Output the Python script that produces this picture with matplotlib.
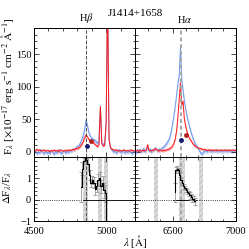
import numpy as np
import matplotlib
matplotlib.use('Agg')
import matplotlib.pyplot as plt
from matplotlib.ticker import MultipleLocator, FixedLocator

plt.rcParams['font.family'] = ['Liberation Serif', 'DejaVu Serif']
plt.rcParams['mathtext.fontset'] = 'stix'
plt.rcParams['hatch.color'] = '0.7'
plt.rcParams['hatch.linewidth'] = 0.5

# datos: espectros (dos epocas), rejilla de 10 A
lam_b = np.arange(4500, 5201, 10)
lam_a = np.arange(6200, 7001, 10)

blue_hb = [-1, 2, -3, 0, -2, 3, -1, -3, 1, -2,
           0, -3, 2, -1, -4, 1, -2, 3, -1, -3,
           0, 2, -2, 1, -1, 2, 1, 4, 3, 6,
           8, 9, 13, 18, 24, 33, 49, 40, 30, 24,
           20, 19, 17, 16, 13, 14, 68, 13, 11, 12,
           43, 235, 18, 6, 3, 0, 2, -2, 1, 3,
           -1, 0, 2, -2, 1, -1, 2, 0, -3, 1, -1]
red_hb = [3, 1, 4, 2, 3, 1, 2, 3, 1, 2,
          2, 0, 2, 1, 3, 1, 2, 0, 3, 2,
          1, 2, 1, 3, 2, 3, 2, 4, 3, 5,
          5, 6, 8, 11, 15, 21, 26, 23, 19, 17,
          16, 14, 12, 10, 8, 11, 70, 12, 9, 10,
          45, 240, 20, 6, 4, 3, 2, 3, 2, 1,
          2, 1, 3, 2, 1, 2, 1, 3, 2, 1, 2]

blue_ha = [1, -2, 3, 0, 4, -1, 2, 5, 0, 2,
           9, 1, 4, -1, 3, 2, 6, 3, 1, 4,
           2, 5, 6, 8, 10, 13, 16, 19, 25, 34,
           46, 58, 72, 88, 105, 118, 162, 112, 95, 80,
           66, 56, 48, 40, 32, 26, 20, 15, 11, 8,
           5, 2, -2, -4, -1, 1, 2, 0, 3, 1,
           2, 0, 2, 1, 3, 0, 2, 1, 2, 0,
           2, 1, 3, 0, 2, 1, 2, 0, 2, 1, 2]
red_ha = [2, 1, 3, 0, 2, 1, 3, 1, 2, 3,
          11, 3, 1, 2, 3, 2, 5, 4, 2, 1,
          3, 2, 1, 3, 2, 3, 4, 4, 6, 7,
          10, 14, 21, 33, 55, 80, 106, 72, 78, 52,
          40, 32, 26, 21, 18, 15, 12, 10, 8, 7,
          6, 5, 5, 4, 3, 4, 3, 2, 3, 2,
          3, 2, 3, 2, 2, 3, 2, 2, 3, 2,
          2, 3, 2, 2, 3, 2, 2, 3, 2, 2, 3]
err_blue = 3.0
err_red = 2.0

# puntos
dots_lam = [4864, 4892, 6565, 6605]
dots_flux = [9.4, 17, 18, 26]

# residuos dF/F
res_lam_b = [4825, 4835, 4845, 4855, 4865, 4875, 4885, 4895, 4905, 4915,
             4925, 4935, 4945, 4955, 4965, 4975, 4985, 4995, 5005]
res_val_b = [0.6, 1.45, 1.80, 1.93, 1.88, 1.65, 1.15, 0.78, 0.92, 0.80,
             0.50, 0.62, 0.92, 1.00, 0.62, 0.80, 0.45, 0.30, -1.2]
res_err_b = [0.7, 0.3, 0.15, 0.1, 0.15, 0.3, 0.25, 0.2, 0.2, 0.25,
             0.3, 0.25, 0.3, 0.3, 0.3, 0.3, 0.35, 0.4, 0.0]
res_lam_a = [6515, 6525, 6535, 6545, 6555, 6565, 6575, 6585, 6595, 6605,
             6615, 6625, 6635, 6645, 6655, 6665, 6675]
res_val_a = [0.35, 1.40, 1.45, 1.40, 1.15, 0.92, 0.80, 0.62, 0.55, 0.45,
             0.38, 0.30, 0.20, 0.12, 0.05, 0.02, -0.08]
res_err_a = [0.45, 0.15, 0.12, 0.1, 0.1, 0.1, 0.1, 0.1, 0.1, 0.1,
             0.12, 0.12, 0.15, 0.15, 0.15, 0.15, 0.15]

bandas_b = [(4841, 4876), (4945, 4974), (4986, 5014)]
bandas_a = [(6350, 6380), (6548, 6600), (6703, 6740)]

fig = plt.figure(figsize=(2.49, 2.49), dpi=100)
x0, w = 34 / 249, 101 / 249
ax1 = fig.add_axes([x0, 0.3695, w, 0.518])
ax2 = fig.add_axes([x0 + w, 0.3695, w, 0.518])
ax3 = fig.add_axes([x0, 0.1124, w, 0.2571])
ax4 = fig.add_axes([x0 + w, 0.1124, w, 0.2571])

azul = '#7099ee'
rojo = '#ff1a1a'
for ax, lam, fb, fr in [(ax1, lam_b, blue_hb, red_hb), (ax2, lam_a, blue_ha, red_ha)]:
    fb = np.array(fb, dtype=float)
    fr = np.array(fr, dtype=float)
    ax.fill_between(lam, fb - err_blue, fb + err_blue, color='#bccff6', lw=0)
    ax.plot(lam, fb, color=azul, lw=0.7)
    ax.fill_between(lam, fr - err_red, fr + err_red, color='#ffaaaa', lw=0)
    ax.plot(lam, fr, color=rojo, lw=0.7)
    ax.set_ylim(-8, 190)

ax1.set_xlim(4500, 5200)
ax3.set_xlim(4500, 5200)
ax2.set_xlim(6200, 7000)
ax4.set_xlim(6200, 7000)

ax1.axvline(4861, color='0.3', ls='--', lw=0.7)
ax3.axvline(4861, color='0.3', ls='--', lw=0.7)
ax2.axvline(6563, color='0.65', ls='--', lw=1.4, dashes=(2, 1.5))
ax4.axvline(6563, color='0.65', ls='--', lw=1.4, dashes=(2, 1.5))

for i in range(4):
    ax = ax1 if dots_lam[i] < 6000 else ax2
    c = 'midnightblue' if i % 2 == 0 else 'firebrick'
    ax.plot(dots_lam[i], dots_flux[i], 'o', color=c, ms=2.5, zorder=5)

# panel inferior
for ax, bandas, lam, val, err, seg in [(ax3, bandas_b, res_lam_b, res_val_b, res_err_b, (4840, 5200)),
                                      (ax4, bandas_a, res_lam_a, res_val_a, res_err_a, (6500, 6690))]:
    for a, b in bandas:
        ax.axvspan(a, b, facecolor='0.85', edgecolor='0.72', hatch='//////', lw=0)
    ax.axhline(0, color='k', ls=':', lw=0.6)
    ax.hlines(0, seg[0], seg[1], color='k', lw=0.6)
    ax.errorbar(lam, val, yerr=err, fmt='none', ecolor='0.6', elinewidth=0.6, capsize=1.5, capthick=0.6)
    ax.plot(lam, val, color='k', lw=0.8, drawstyle='steps-mid')
    ax.set_ylim(-1, 2)

for ax in [ax1, ax2, ax3, ax4]:
    ax.xaxis.set_major_locator(MultipleLocator(500))
    ax.xaxis.set_minor_locator(MultipleLocator(100))
    ax.tick_params(which='both', direction='in', top=True, right=True, labelsize=7.5, width=0.5, pad=2)
    ax.tick_params(axis='x', pad=4)
    ax.tick_params(which='major', length=3.5)
    ax.tick_params(which='minor', length=1.8)
    for s in ax.spines.values():
        s.set_linewidth(0.7)
for ax in [ax1, ax2]:
    ax.yaxis.set_major_locator(MultipleLocator(50))
    ax.yaxis.set_minor_locator(MultipleLocator(10))
    ax.set_xticklabels([])
for ax in [ax3, ax4]:
    ax.yaxis.set_major_locator(FixedLocator([-1, 0, 1]))
    ax.yaxis.set_minor_locator(MultipleLocator(0.2))
ax2.set_yticklabels([])
ax4.set_yticklabels([])

fig.text(0.032, 0.655, r'F$_\lambda$ [$\times$10$^{-17}$ erg s$^{-1}$ cm$^{-2}$ $\mathrm{\AA}^{-1}$]',
         rotation=90, ha='center', va='center', fontsize=8.2)
fig.text(0.032, 0.245, r'$\Delta$F$_\lambda$/F$_\lambda$', rotation=90, ha='center', va='center', fontsize=7.8)
fig.text(0.543, 0.03, r'$\lambda$ [$\mathrm{\AA}$]', ha='center', va='center', fontsize=7.8)
fig.text(0.543, 0.945, 'J1414+1658', ha='center', va='center', fontsize=8)
ax1.text(4861, 1.02, r'H$\beta$', transform=ax1.get_xaxis_transform(), ha='center', va='bottom', fontsize=7.5)
ax2.text(6590, 1.02, r'H$\alpha$', transform=ax2.get_xaxis_transform(), ha='center', va='bottom', fontsize=7.5)

fig.savefig('out.png', dpi=100)
